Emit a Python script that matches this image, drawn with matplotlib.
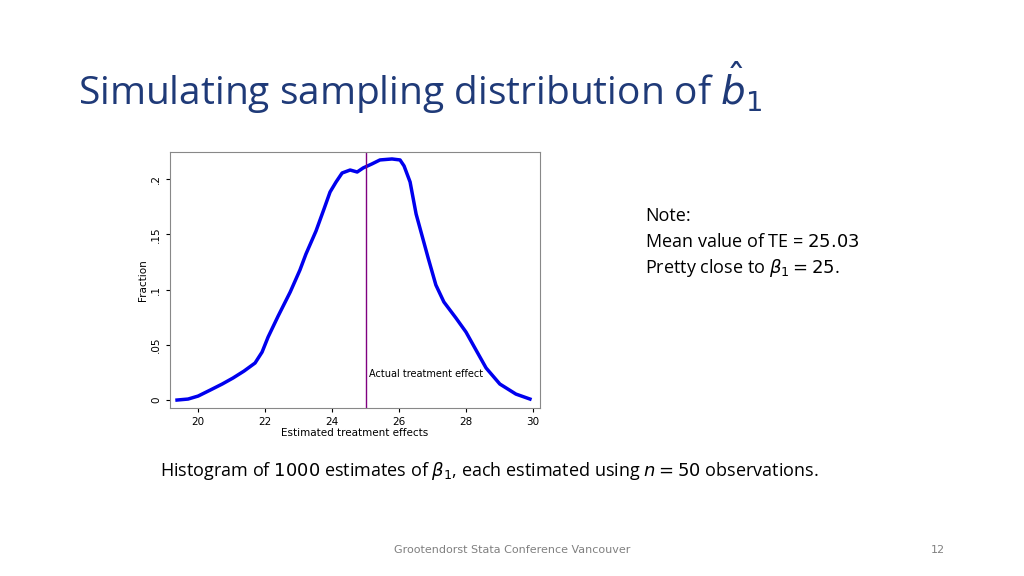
import matplotlib
matplotlib.use("Agg")
import matplotlib.pyplot as plt

te = [19.37,19.70,20.0,20.36,20.72,21.04,21.37,21.70,21.91,22.09,22.39,22.75,23.04,23.22,23.52,23.76,23.94,24.12,24.30,24.54,24.75,24.93,25.19,25.43,25.79,26.03,26.15,26.33,26.51,26.87,27.10,27.34,27.70,28.00,28.30,28.60,29.01,29.49,29.91]
frac = [0.0,0.0009,0.0036,0.0090,0.0145,0.0199,0.0262,0.0335,0.0434,0.0570,0.0760,0.0977,0.1176,0.1321,0.1529,0.1729,0.1882,0.1973,0.2054,0.2081,0.2063,0.2100,0.2136,0.2172,0.2181,0.2172,0.2118,0.1973,0.1683,0.1285,0.1041,0.0887,0.0742,0.0615,0.0452,0.0290,0.0145,0.0054,0.0009]
actual_effect = 25
xticks = [20,22,24,26,28,30]
yticks = [0,0.05,0.1,0.15,0.2]
ytick_labels = ["0",".05",".1",".15",".2"]

fig = plt.figure(figsize=(10.24,5.76), dpi=100)
fig.patch.set_facecolor("white")
navy = "#1F3A78"
fig.text(78/1024, 1-88/576, "Simulating sampling distribution of $\\hat{b}_1$", fontsize=28,
         color=navy, family="Open Sans", va="center", ha="left")

ax = fig.add_axes([170/1024, 1-408/576, 370/1024, 256/576])
ax.plot(te, frac, color="#0000EE", lw=2.5)
ax.axvline(actual_effect, color="#800080", lw=1)
ax.text(actual_effect+0.1, 0.024, "Actual treatment effect", fontsize=7, ha="left", va="center")
ax.set_xlim(19.16, 30.21)
ax.set_ylim(-0.0072, 0.2244)
ax.set_xticks(xticks)
ax.set_yticks(yticks)
ax.set_yticklabels(ytick_labels, rotation=90, va="center")
ax.tick_params(labelsize=7.5, length=3)
for s in ax.spines.values():
    s.set_color("#888888")
ax.set_xlabel("Estimated treatment effects", fontsize=7.5, labelpad=1)
ax.set_ylabel("Fraction", fontsize=7.5, labelpad=2)

fig.text(645/1024, 1-216/576, "Note:", fontsize=13, family="Open Sans", va="center")
fig.text(645/1024, 1-242/576, "Mean value of TE = $25.03$", fontsize=13, family="Open Sans", va="center")
fig.text(645/1024, 1-268/576, "Pretty close to $\\beta_1 = 25$.", fontsize=13, family="Open Sans", va="center")
fig.text(160/1024, 1-471/576, "Histogram of $1000$ estimates of $\\beta_1$, each estimated using $n = 50$ observations.",
         fontsize=13, family="Open Sans", va="center")
fig.text(512/1024, 1-550/576, "Grootendorst Stata Conference Vancouver", fontsize=8, color="#808080", ha="center", va="center")
fig.text(945/1024, 1-550/576, "12", fontsize=8, color="#808080", ha="right", va="center")
fig.savefig("out.png", dpi=100)
